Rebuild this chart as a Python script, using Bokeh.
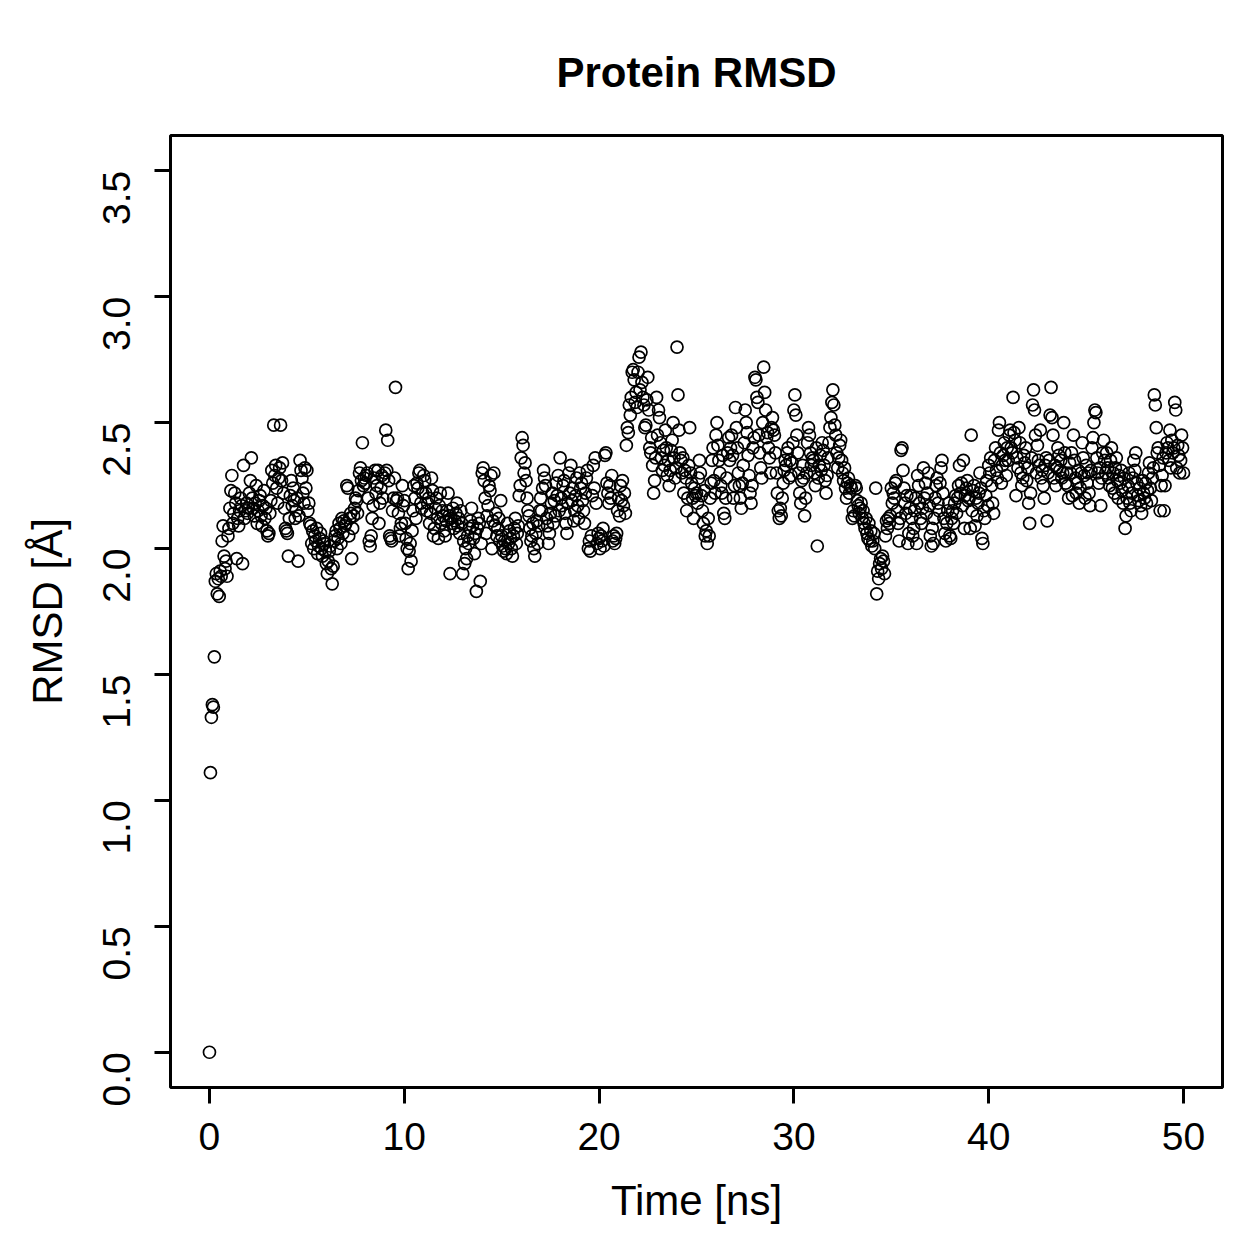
import math
from bokeh.plotting import figure
from bokeh.models import FixedTicker, Range1d, NumeralTickFormatter, ColumnDataSource
from bokeh.embed import file_html
from bokeh.resources import INLINE

# RMSD values (Å), one row per nanosecond, sampled every 0.05 ns
rmsd = [
    0.00,1.11,1.33,1.38,1.37,1.57,1.87,1.90,1.82,1.88,1.81,1.91,1.89,2.03,2.09,1.97,1.92,1.95,1.89,2.05,
    2.08,2.16,2.23,2.29,2.10,2.14,2.22,2.18,1.96,2.12,2.09,2.15,2.20,2.17,1.94,2.33,2.12,2.15,2.18,2.14,
    2.16,2.22,2.27,2.36,2.20,2.16,2.13,2.18,2.25,2.10,2.15,2.19,2.21,2.13,2.09,2.17,2.23,2.12,2.16,2.07,
    2.05,2.06,2.14,2.19,2.31,2.26,2.49,2.29,2.33,2.24,2.18,2.28,2.32,2.49,2.27,2.34,2.22,2.16,2.08,2.07,
    2.06,1.97,2.12,2.21,2.27,2.17,2.24,2.19,2.12,2.15,2.20,1.95,2.13,2.35,2.31,2.28,2.22,2.18,2.32,2.24,
    2.31,2.15,2.18,2.10,2.09,2.02,2.07,2.00,2.05,2.03,2.08,1.98,2.01,2.04,2.06,2.00,1.97,2.03,2.02,1.99,
    1.94,1.90,1.95,1.99,2.01,1.92,1.86,1.93,2.03,2.05,2.07,2.00,2.04,2.10,2.08,2.02,2.12,2.06,2.11,2.09,
    2.10,2.25,2.24,2.05,2.12,2.14,1.96,2.08,2.13,2.16,2.20,2.19,2.14,2.23,2.30,2.32,2.27,2.42,2.25,2.28,
    2.26,2.29,2.30,2.20,2.03,2.01,2.05,2.12,2.17,2.28,2.31,2.22,2.25,2.31,2.10,2.18,2.24,2.29,2.20,2.28,
    2.30,2.47,2.31,2.43,2.27,2.05,2.04,2.03,2.15,2.20,2.28,2.64,2.19,2.20,2.14,2.05,2.08,2.10,2.25,2.17,
    2.19,2.10,2.04,2.00,1.92,1.99,2.02,1.95,2.07,2.15,2.25,2.20,2.12,2.26,2.24,2.30,2.31,2.18,2.16,2.22,
    2.29,2.27,2.22,2.15,2.18,2.20,2.10,2.14,2.28,2.23,2.05,2.08,2.16,2.20,2.12,2.04,2.17,2.22,2.10,2.15,
    2.13,2.07,2.05,2.11,2.15,2.22,2.13,1.90,2.12,2.10,2.16,2.08,2.11,2.14,2.18,2.09,2.12,2.06,2.15,2.10,
    1.90,2.03,1.94,2.00,1.96,2.05,2.02,2.08,2.11,2.16,2.09,2.04,1.98,2.06,1.83,2.08,2.12,2.10,1.87,2.02,
    2.30,2.32,2.27,2.20,2.06,2.13,2.17,2.25,2.23,2.29,2.00,2.11,2.30,2.09,2.14,2.05,2.08,2.12,2.03,2.19,
    2.05,2.01,1.99,2.03,2.00,1.98,2.10,2.02,2.07,2.04,2.00,1.97,2.05,2.08,2.12,2.02,2.06,2.09,2.21,2.25,
    2.36,2.44,2.41,2.30,2.34,2.27,2.20,2.15,2.13,2.08,2.03,2.05,2.10,2.00,1.97,2.06,2.11,2.02,2.09,2.15,
    2.20,2.15,2.24,2.31,2.28,2.25,2.12,2.09,2.02,2.06,2.14,2.18,2.22,2.10,2.19,2.13,2.26,2.21,2.29,2.15,
    2.36,2.20,2.17,2.25,2.27,2.14,2.10,2.06,2.18,2.30,2.22,2.33,2.19,2.24,2.11,2.15,2.21,2.28,2.17,2.12,
    2.30,2.24,2.26,2.19,2.15,2.10,2.22,2.28,2.31,2.00,2.03,1.99,2.05,2.21,2.33,2.24,2.36,2.18,2.02,2.06,
    2.04,2.00,2.05,2.03,2.08,2.01,2.37,2.38,2.26,2.22,2.18,2.25,2.20,2.29,2.03,2.05,2.02,2.04,2.06,2.15,
    2.20,2.13,2.25,2.19,2.27,2.17,2.22,2.14,2.41,2.48,2.46,2.57,2.53,2.60,2.70,2.71,2.67,2.58,2.62,2.56,
    2.70,2.76,2.63,2.78,2.66,2.60,2.57,2.48,2.49,2.59,2.68,2.55,2.40,2.38,2.44,2.33,2.22,2.27,2.36,2.60,
    2.45,2.55,2.52,2.42,2.36,2.31,2.39,2.33,2.47,2.40,2.29,2.35,2.25,2.31,2.39,2.43,2.50,2.36,2.28,2.32,
    2.80,2.61,2.47,2.38,2.35,2.30,2.36,2.22,2.31,2.28,2.15,2.20,2.33,2.48,2.30,2.26,2.20,2.12,2.24,2.21,
    2.22,2.18,2.28,2.35,2.30,2.21,2.15,2.10,2.23,2.05,2.07,2.02,2.12,2.05,2.20,2.26,2.35,2.40,2.27,2.22,
    2.45,2.50,2.41,2.35,2.30,2.25,2.22,2.37,2.14,2.12,2.20,2.28,2.38,2.44,2.35,2.40,2.45,2.37,2.20,2.25,
    2.56,2.48,2.40,2.30,2.25,2.20,2.16,2.26,2.33,2.42,2.55,2.50,2.46,2.37,2.29,2.22,2.18,2.25,2.40,2.44,
    2.68,2.67,2.60,2.58,2.45,2.38,2.32,2.28,2.50,2.72,2.62,2.55,2.44,2.46,2.40,2.36,2.30,2.48,2.52,2.47,
    2.45,2.38,2.30,2.22,2.15,2.12,2.16,2.13,2.20,2.26,2.31,2.35,2.33,2.38,2.40,2.28,2.35,2.29,2.34,2.42,
    2.55,2.61,2.53,2.45,2.38,2.30,2.22,2.18,2.27,2.33,2.28,2.13,2.20,2.30,2.42,2.48,2.45,2.38,2.33,2.36,
    2.35,2.30,2.25,2.40,2.01,2.28,2.33,2.37,2.31,2.42,2.39,2.33,2.27,2.22,2.29,2.36,2.42,2.48,2.52,2.58,
    2.63,2.57,2.49,2.45,2.38,2.32,2.36,2.41,2.43,2.35,2.30,2.27,2.32,2.24,2.20,2.26,2.28,2.22,2.25,2.24,
    2.12,2.15,2.13,2.25,2.24,2.19,2.17,2.14,2.16,2.18,2.12,2.15,2.10,2.08,2.12,2.06,2.04,2.10,2.03,2.07,
    2.01,2.03,2.06,2.00,2.24,1.82,1.91,1.88,1.94,1.96,1.92,1.97,1.95,1.90,2.05,2.11,2.08,2.12,2.10,2.13,
    2.24,2.18,2.22,2.20,2.26,2.27,2.15,2.10,2.03,2.12,2.39,2.40,2.31,2.24,2.18,2.14,2.21,2.02,2.06,2.16,
    2.21,2.12,2.05,2.08,2.15,2.20,2.02,2.29,2.25,2.18,2.12,2.10,2.16,2.32,2.20,2.26,2.14,2.22,2.30,2.17,
    2.05,2.01,2.08,2.02,2.12,2.20,2.25,2.28,2.18,2.15,2.26,2.32,2.35,2.22,2.12,2.06,2.03,2.10,2.15,2.18,
    2.05,2.04,2.12,2.15,2.10,2.18,2.21,2.14,2.20,2.25,2.33,2.22,2.26,2.17,2.35,2.08,2.21,2.24,2.27,2.19,
    2.20,2.08,2.45,2.15,2.23,2.25,2.09,2.20,2.13,2.18,2.22,2.30,2.24,2.04,2.02,2.15,2.12,2.21,2.27,2.17,
    2.33,2.30,2.36,2.25,2.18,2.14,2.35,2.40,2.31,2.28,2.47,2.50,2.38,2.26,2.33,2.37,2.42,2.35,2.29,2.40,
    2.35,2.45,2.47,2.40,2.38,2.60,2.46,2.43,2.21,2.36,2.32,2.48,2.42,2.30,2.25,2.28,2.37,2.34,2.40,2.27,
    2.32,2.18,2.10,2.22,2.36,2.57,2.63,2.55,2.45,2.30,2.41,2.35,2.33,2.47,2.28,2.31,2.25,2.20,2.33,2.36,
    2.11,2.30,2.35,2.53,2.64,2.52,2.45,2.28,2.33,2.25,2.32,2.40,2.37,2.31,2.35,2.28,2.30,2.50,2.38,2.26,
    2.30,2.25,2.20,2.34,2.30,2.38,2.21,2.45,2.35,2.28,2.22,2.26,2.31,2.18,2.24,2.30,2.42,2.36,2.29,2.20,
    2.33,2.26,2.30,2.22,2.17,2.31,2.40,2.44,2.50,2.55,2.54,2.36,2.30,2.26,2.32,2.17,2.28,2.38,2.43,2.35,
    2.30,2.38,2.32,2.28,2.25,2.35,2.40,2.24,2.30,2.22,2.32,2.36,2.27,2.20,2.29,2.26,2.31,2.23,2.18,2.28,
    2.08,2.13,2.20,2.25,2.30,2.18,2.15,2.22,2.28,2.35,2.31,2.38,2.26,2.21,2.19,2.24,2.17,2.14,2.27,2.22,
    2.20,2.26,2.18,2.23,2.30,2.34,2.24,2.19,2.28,2.32,2.61,2.57,2.48,2.38,2.40,2.33,2.15,2.25,2.29,2.36,
    2.15,2.25,2.38,2.42,2.40,2.35,2.47,2.32,2.43,2.38,2.40,2.58,2.55,2.32,2.41,2.37,2.30,2.35,2.45,2.40,
    2.30,
]
sample_step_ns = 0.05
time_ns = [round(i * sample_step_ns, 2) for i in range(len(rmsd))]

x_ticks = [0, 10, 20, 30, 40, 50]
y_ticks = [0.0, 0.5, 1.0, 1.5, 2.0, 2.5, 3.0, 3.5]
title_text = "Protein RMSD"
x_label = "Time [ns]"
y_label = "RMSD [Å]"

FONT = "Liberation Sans"

p = figure(width=1259, height=1259, output_backend="svg", toolbar_location=None,
           x_range=Range1d(-2.0, 52.0), y_range=Range1d(-0.14, 3.64),
           min_border_left=170, min_border_right=37, min_border_top=135, min_border_bottom=172,
           background_fill_color="white", border_fill_color="white")

p.title.text = title_text
p.title.align = "center"
p.title.text_font = FONT
p.title.text_font_size = "42px"
p.title.text_font_style = "bold"
p.title.text_color = "black"
p.title.standoff = 80

p.xgrid.visible = False
p.ygrid.visible = False
p.outline_line_color = "black"
p.outline_line_width = 3

p.xaxis.ticker = FixedTicker(ticks=x_ticks)
p.yaxis.ticker = FixedTicker(ticks=y_ticks)
p.yaxis.formatter = NumeralTickFormatter(format="0.0")
p.yaxis.major_label_orientation = math.pi / 2

for ax in (p.xaxis[0], p.yaxis[0]):
    ax.axis_line_color = None
    ax.minor_tick_line_color = None
    ax.major_tick_in = 0
    ax.major_tick_out = 16
    ax.major_tick_line_width = 3
    ax.major_tick_line_color = "black"
    ax.major_label_text_font = FONT
    ax.major_label_text_font_size = "39px"
    ax.major_label_text_color = "black"
    ax.axis_label_text_font = FONT
    ax.axis_label_text_font_size = "42px"
    ax.axis_label_text_font_style = "normal"
    ax.axis_label_text_color = "black"

p.xaxis.axis_label = x_label
p.yaxis.axis_label = y_label
p.xaxis.major_label_standoff = 19
p.yaxis.major_label_standoff = 38
p.xaxis.axis_label_standoff = 24
p.yaxis.axis_label_standoff = 16

src = ColumnDataSource(data=dict(t=time_ns, r=rmsd))
p.scatter("t", "r", source=src, marker="circle", size=12, fill_color=None,
          line_color="black", line_width=1.7)

open("out.html", "w").write(file_html(p, INLINE))
